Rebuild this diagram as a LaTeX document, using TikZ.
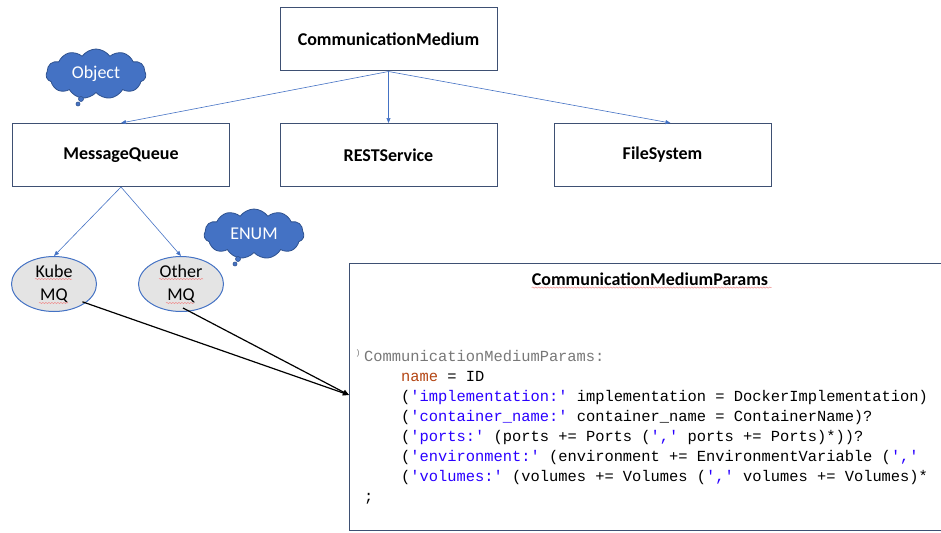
\documentclass[tikz,border=0pt]{standalone}
\usepackage{fontspec}
\setmainfont{Carlito}
\newfontfamily\codefont{Liberation Mono}
\usetikzlibrary{arrows.meta,shapes.symbols,shapes.geometric,decorations.pathmorphing}

\definecolor{boxline}{RGB}{62,80,115}
\definecolor{linkblue}{RGB}{68,114,196}
\definecolor{clouddark}{RGB}{47,82,143}
\definecolor{ellfill}{RGB}{228,228,228}
\definecolor{hdrgrey}{RGB}{120,120,120}
\definecolor{kwred}{RGB}{180,70,20}
\definecolor{strblue}{RGB}{42,0,255}
\definecolor{spellred}{RGB}{240,140,140}

\tikzset{
  classbox/.style={draw=boxline, line width=1pt, fill=white, minimum width=217pt,
    minimum height=63pt, inner sep=0pt, font=\fontsize{18}{21}\selectfont\bfseries},
  link/.style={draw=linkblue, line width=0.6pt, -{Triangle[length=5pt,width=4pt]}},
  uselink/.style={draw=black, line width=1.2pt, -{Triangle[length=6pt,width=5pt]}},
  mqell/.style={ellipse, draw=linkblue, line width=1pt, fill=ellfill, minimum width=85pt,
    minimum height=55pt, inner sep=0pt, align=center, font=\fontsize{18}{23}\selectfont},
  tagcloud/.style={cloud, cloud puffs=11, cloud puff arc=110, aspect=2, draw=clouddark,
    line width=0.8pt, fill=linkblue, minimum width=100pt, minimum height=50pt,
    text=white, font=\fontsize{18}{21}\selectfont},
  bubble/.style={circle, draw=clouddark, line width=0.6pt, fill=linkblue, inner sep=0pt},
  spell/.style={draw=spellred, line width=0.5pt,
    decorate, decoration={snake, amplitude=0.6pt, segment length=3pt}},
  codeline/.style={anchor=base west, inner sep=0pt,
    font=\codefont\fontsize{15.4}{20}\selectfont\frenchspacing}
}

\begin{document}
\begin{tikzpicture}[x=1pt, y=-1pt]
  \useasboundingbox (0,0) rectangle (941,532);
  \clip (0,0) rectangle (941,532);

  % class hierarchy
  \node[classbox] (cm)   at (388.5,39.5) {CommunicationMedium};
  \node[classbox] (mq)   at (121,155)    {MessageQueue};
  \node[classbox] (rest) at (388.5,155)  {RESTService};
  \node[classbox] (fs)   at (662.5,155)  {FileSystem};

  \draw[link] (cm.south) -- (mq.north);
  \draw[link] (cm.south) -- (rest.north);
  \draw[link] (cm.south) -- ([xshift=8pt]fs.north);

  % message queue variants
  \node[mqell] (kube)  at (54,284)  {Kube\\MQ};
  \node[mqell] (other) at (181,284) {Other\\MQ};
  \draw[link] (mq.south) -- (kube.north);
  \draw[link] (mq.south) -- (other.north);

  \draw[spell] (35,279) -- (72,279);
  \draw[spell] (39,303) -- (68,303);
  \draw[spell] (159,279) -- (203,279);
  \draw[spell] (166,303) -- (194,303);

  % annotation clouds
  \node[tagcloud] (objtag) at (96,74) {Object};
  \node[bubble, minimum size=5pt] (objb1) at (81,99) {};
  \node[bubble, minimum size=4pt] (objb2) at (78,104) {};
  \node[tagcloud] (enumtag) at (254,234) {ENUM};
  \node[bubble, minimum size=5pt] (enumb1) at (238,259) {};
  \node[bubble, minimum size=4pt] (enumb2) at (235,264) {};

  % grammar panel
  \node[draw=boxline, line width=1pt, fill=white, minimum width=600pt, minimum height=267pt,
        anchor=north west, inner sep=0pt] (params) at (349,263) {};
  \node[font=\fontsize{18}{21}\selectfont\bfseries, inner sep=0pt] (ptitle) at (650,279)
    {CommunicationMediumParams};
  \draw[spell] (ptitle.south west) ++(0,2) -- ++(240,0);

  \coordinate (codeorigin) at (364,361);
  \node[text=hdrgrey, font=\codefont\fontsize{8}{8}\selectfont, inner sep=0pt] (fold) at (358,353) {)};
  \node[codeline, text=hdrgrey] (l0) at (codeorigin) {CommunicationMediumParams:};
  \node[codeline] (l1) at ([shift={(37,20)}]codeorigin)
    {\textcolor{kwred}{name} = ID};
  \node[codeline] (l2) at ([shift={(37,40)}]codeorigin)
    {(\textcolor{strblue}{'implementation:'} implementation = DockerImplementation)};
  \node[codeline] (l3) at ([shift={(37,60)}]codeorigin)
    {(\textcolor{strblue}{'container\_name:'} container\_name = ContainerName)?};
  \node[codeline] (l4) at ([shift={(37,80)}]codeorigin)
    {(\textcolor{strblue}{'ports:'} (ports += Ports (\textcolor{strblue}{','} ports += Ports)*))?};
  \node[codeline] (l5) at ([shift={(37,100)}]codeorigin)
    {(\textcolor{strblue}{'environment:'} (environment += EnvironmentVariable (\textcolor{strblue}{','}};
  \node[codeline] (l6) at ([shift={(37,120)}]codeorigin)
    {(\textcolor{strblue}{'volumes:'} (volumes += Volumes (\textcolor{strblue}{','} volumes += Volumes)*};
  \node[codeline] (l7) at ([shift={(0,140)}]codeorigin) {;};

  % usage links into the grammar panel
  \coordinate (useend) at (349,395);
  \draw[uselink] (kube.south east) ++(-2,-2) coordinate (kubeout) -- (useend);
  \draw[uselink] (other) ++(2,24) coordinate (otherout) -- (useend);
\end{tikzpicture}
\end{document}
